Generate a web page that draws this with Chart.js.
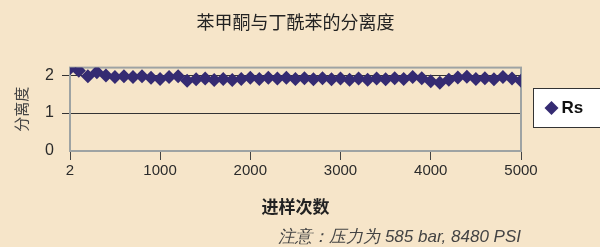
<!DOCTYPE html>
<html>
<head>
<meta charset="utf-8">
<script src="https://cdn.jsdelivr.net/npm/chart.js@4/dist/chart.umd.min.js"></script>
<style>
  html, body { margin: 0; padding: 0; background: #f6e5c9; }
  #wrap { width: 600px; height: 247px; }
</style>
</head>
<body>
<div id="wrap"><canvas id="rsChart" width="600" height="247"></canvas></div>
<script>
// ── Data ───────────────────────────────────────────────────────
const injections = [
  2, 100, 200, 300, 400, 500, 600, 700, 800, 900,
  1000, 1100, 1200, 1300, 1400, 1500, 1600, 1700, 1800, 1900,
  2000, 2100, 2200, 2300, 2400, 2500, 2600, 2700, 2800, 2900,
  3000, 3100, 3200, 3300, 3400, 3500, 3600, 3700, 3800, 3900,
  4000, 4100, 4200, 4300, 4400, 4500, 4600, 4700, 4800, 4900, 5000
];
const rsValues = [
  2.18, 2.12, 1.97, 2.08, 1.99, 1.95, 1.97, 1.95, 1.97, 1.93,
  1.90, 1.95, 1.97, 1.85, 1.89, 1.91, 1.87, 1.90, 1.87, 1.90,
  1.93, 1.90, 1.93, 1.91, 1.93, 1.90, 1.92, 1.89, 1.92, 1.89,
  1.91, 1.88, 1.91, 1.88, 1.91, 1.89, 1.92, 1.90, 1.95, 1.92,
  1.84, 1.80, 1.88, 1.94, 1.96, 1.90, 1.92, 1.89, 1.95, 1.91, 1.85
];
const xTicks = [2, 1000, 2000, 3000, 4000, 5000];
const yTicks = [0, 1, 2];

const MARKER = '#352b72';
const FRAME = '#9ea3a3';
const TEXT = '#2b2b2b';
const SANS = "'Liberation Sans', Arial, sans-serif";
const CJK = "'Noto Sans CJK SC', sans-serif";

// ── Plugins ────────────────────────────────────────────────────
// gray frame round the plot area
const framePlugin = {
  id: 'frame',
  beforeDatasetsDraw(chart) {
    const { ctx, chartArea: a } = chart;
    ctx.save();
    ctx.strokeStyle = FRAME;
    ctx.lineWidth = 2;
    ctx.strokeRect(a.left, a.top, a.right - a.left, a.bottom - a.top);
    ctx.restore();
  }
};

// boxed legend on the right, cut by the canvas edge like the original
const boxLegendPlugin = {
  id: 'boxLegend',
  afterDraw(chart) {
    const { ctx, chartArea: a } = chart;
    const ds = chart.data.datasets[0];
    const x0 = a.right + 12.5;
    const cy = 108;
    ctx.save();
    ctx.fillStyle = '#ffffff';
    ctx.strokeStyle = '#333333';
    ctx.lineWidth = 1;
    ctx.fillRect(x0, cy - 19.5, 90, 39);
    ctx.strokeRect(x0, cy - 19.5, 90, 39);
    ctx.fillStyle = MARKER;
    ctx.strokeStyle = MARKER;
    Chart.helpers.drawPoint(ctx, { pointStyle: 'rectRot', radius: 7, borderWidth: 0 }, x0 + 18, cy);
    ctx.fillStyle = '#111111';
    ctx.font = `bold 17px ${SANS}`;
    ctx.textBaseline = 'middle';
    ctx.fillText(ds.label, x0 + 28, cy);
    ctx.restore();
  }
};

// ── Chart ──────────────────────────────────────────────────────
const ctx = document.getElementById('rsChart').getContext('2d');

new Chart(ctx, {
  type: 'line',
  data: {
    datasets: [{
      label: 'Rs',
      data: injections.map((x, i) => ({ x, y: rsValues[i] })),
      showLine: false,
      pointStyle: 'rectRot',
      pointRadius: 7,
      pointBackgroundColor: MARKER,
      pointBorderColor: MARKER,
      pointBorderWidth: 0,
    }]
  },
  options: {
    responsive: false,
    animation: false,
    layout: { padding: { left: 0, right: 79, top: 0, bottom: 0 } },
    plugins: {
      tooltip: { enabled: false },
      legend: { display: false },
      title: {
        display: true,
        fullSize: false,
        text: '苯甲酮与丁酰苯的分离度',
        color: '#222222',
        font: { family: CJK, size: 18, weight: 'normal' },
        padding: { top: 11, bottom: 35 },
      },
      subtitle: {
        display: true,
        fullSize: false,
        position: 'bottom',
        align: 'end',
        text: '注意：压力为 585 bar, 8480 PSI',
        color: '#444444',
        font: { family: SANS, size: 17, style: 'italic' },
        padding: { top: 0, bottom: 0 },
      },
    },
    scales: {
      x: {
        type: 'linear',
        min: 2,
        max: 5000,
        afterBuildTicks: s => { s.ticks = xTicks.map(v => ({ value: v })); },
        afterFit: s => { s.height = 75.6; },
        border: { display: false },
        grid: { drawOnChartArea: false, drawTicks: true, tickLength: 9, color: '#444444' },
        ticks: {
          color: TEXT,
          padding: 2,
          maxRotation: 0,
          font: { family: SANS, size: 15 },
          callback: v => String(v),
        },
        title: {
          display: true,
          text: '进样次数',
          color: '#222222',
          font: { family: CJK, size: 17, weight: 'bold' },
          padding: { top: 0, bottom: 10 },
        }
      },
      y: {
        min: 0,
        max: 2.2,
        afterBuildTicks: s => { s.ticks = yTicks.map(v => ({ value: v })); },
        afterFit: s => { s.width = 70; },
        border: { display: false },
        grid: {
          drawTicks: true,
          tickLength: 8,
          color: c => (c.tick && c.tick.value === 0 ? 'rgba(0,0,0,0)' : '#333333'),
          lineWidth: 1,
        },
        ticks: {
          color: TEXT,
          padding: 8,
          font: { family: SANS, size: 16 },
        },
        title: {
          display: true,
          text: '分离度',
          color: '#444444',
          font: { family: CJK, size: 15 },
          padding: { top: 12, bottom: 0 },
        }
      }
    }
  },
  plugins: [framePlugin, boxLegendPlugin]
});
</script>
</body>
</html>
